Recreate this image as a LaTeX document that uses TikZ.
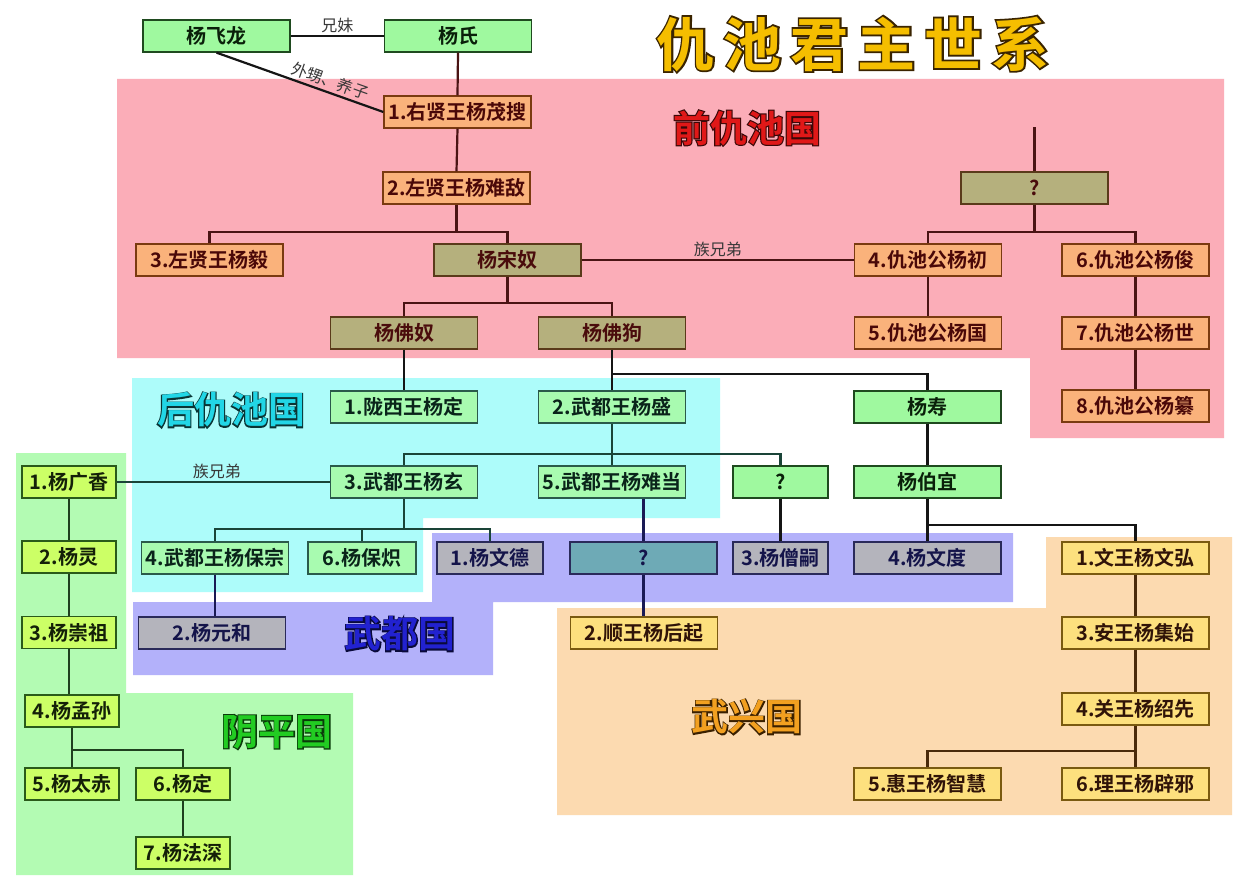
\documentclass[tikz,border=0pt]{standalone}
\usepackage{fontspec}
\newfontfamily\cjk{Noto Sans CJK SC}
\newfontfamily\cjkB{Noto Sans CJK SC Bold}
\newfontfamily\cjkOut{Noto Sans CJK SC Bold}[FakeBold=6]
\usetikzlibrary{calc}
\definecolor{rPink}{HTML}{FBADB8}
\definecolor{rCyan}{HTML}{ADFCFA}
\definecolor{rBlue}{HTML}{B3B1FA}
\definecolor{rPeach}{HTML}{FCDAB0}
\definecolor{rGreen}{HTML}{B3FBB3}
\definecolor{fG}{HTML}{9FF99F}
\definecolor{dG}{HTML}{1F4A1F}
\definecolor{tG}{HTML}{0A200A}
\definecolor{fC}{HTML}{A8FBB0}
\definecolor{dC}{HTML}{2A5A4A}
\definecolor{tC}{HTML}{0A241A}
\definecolor{fO}{HTML}{FAB27B}
\definecolor{dO}{HTML}{7A3A10}
\definecolor{tO}{HTML}{4A0808}
\definecolor{fOl}{HTML}{B5B07D}
\definecolor{dOl}{HTML}{5A3A1A}
\definecolor{tOl}{HTML}{4A0C0C}
\definecolor{fGy}{HTML}{B4B4BC}
\definecolor{dGy}{HTML}{2A2A5A}
\definecolor{tGy}{HTML}{14144A}
\definecolor{fT}{HTML}{6EAAB6}
\definecolor{fY}{HTML}{FDE07E}
\definecolor{dY}{HTML}{7A5A10}
\definecolor{tY}{HTML}{301408}
\definecolor{fL}{HTML}{CCFF66}
\definecolor{dL}{HTML}{2A5A1A}
\definecolor{tL}{HTML}{142008}
\definecolor{lR}{HTML}{4A1414}
\definecolor{lC}{HTML}{1A4438}
\definecolor{lK}{HTML}{151515}
\definecolor{lB}{HTML}{1A1A55}
\definecolor{lO}{HTML}{4A2A0A}
\definecolor{lL}{HTML}{1F3F1F}
\definecolor{cTitle}{HTML}{F5BE00}
\definecolor{oTitle}{HTML}{3A2400}
\definecolor{cRed}{HTML}{E01818}
\definecolor{oRed}{HTML}{3A0808}
\definecolor{cCyan}{HTML}{22D6E6}
\definecolor{oCyan}{HTML}{0A3434}
\definecolor{cBlue}{HTML}{2222D0}
\definecolor{oBlue}{HTML}{0A0A3A}
\definecolor{cOrange}{HTML}{F2A020}
\definecolor{oOrange}{HTML}{3A2000}
\definecolor{cGreen}{HTML}{22CC22}
\definecolor{oGreen}{HTML}{0A3A0A}
\newcommand\outlined[3]{\makebox[0pt]{\color{#2}\cjkOut #1}\makebox[0pt]{\color{#3}\cjkB #1}}
\begin{document}
\begin{tikzpicture}[x=1pt,y=-1pt,
  bx/.style={draw, line width=1.3pt, minimum width=147pt, minimum height=32pt, inner sep=0pt, font=\cjkB\fontsize{20}{20}\selectfont},
  gbox/.style={bx, fill=fG, draw=dG, text=tG},
  cbox/.style={bx, fill=fC, draw=dC, text=tC},
  obox/.style={bx, fill=fO, draw=dO, text=tO},
  olbox/.style={bx, fill=fOl, draw=dOl, text=tOl},
  gybox/.style={bx, fill=fGy, draw=dGy, text=tGy},
  tbox/.style={bx, fill=fT, draw=dGy, text=tGy},
  ybox/.style={bx, fill=fY, draw=dY, text=tY},
  lbox/.style={bx, fill=fL, draw=dL, text=tL, minimum width=94pt},
  ln/.style={line width=2.2pt},
  lnR/.style={ln, draw=lR}, lnC/.style={ln, draw=lC}, lnK/.style={ln, draw=lK},
  lnB/.style={ln, draw=lB}, lnO/.style={ln, draw=lO}, lnL/.style={ln, draw=lL},
  lbl/.style={font=\cjk\fontsize{16}{16}\selectfont, text=black!78, inner sep=2pt},
  big/.style={inner sep=0pt, font=\fontsize{37}{37}\selectfont}
]
\useasboundingbox (0,0) rectangle (1242,880);
\fill[white] (0,0) rectangle (1242,880);
% regions
\fill[rPink] (117,79) -- (1224,79) -- (1224,438) -- (1030,438) -- (1030,358) -- (117,358) -- cycle;
\fill[rCyan] (132,378) -- (720,378) -- (720,518) -- (423,518) -- (423,592) -- (132,592) -- cycle;
\fill[rBlue] (432,533) -- (1013,533) -- (1013,602) -- (493,602) -- (493,675) -- (133,675) -- (133,602) -- (432,602) -- cycle;
\fill[rPeach] (557,608) -- (1046,608) -- (1046,537) -- (1232,537) -- (1232,815) -- (557,815) -- cycle;
\fill[rGreen] (16,453) -- (126,453) -- (126,693) -- (353,693) -- (353,875) -- (16,875) -- cycle;
% region labels
\node[inner sep=0pt, font=\fontsize{58}{58}\selectfont] (title) at (853,44) {\outlined{仇\hspace{9pt}池\hspace{9pt}君\hspace{9pt}主\hspace{9pt}世\hspace{9pt}系}{oTitle}{cTitle}};
\node[big] (lqian) at (747,128) {\outlined{前仇池国}{oRed}{cRed}};
\node[big] (lhou) at (231,410) {\outlined{后仇池国}{oCyan}{cCyan}};
\node[big] (lwudu) at (400,634) {\outlined{武都国}{oBlue}{cBlue}};
\node[big] (lwuxing) at (747,717) {\outlined{武兴国}{oOrange}{cOrange}};
\node[big] (lyinping) at (277,732) {\outlined{阴平国}{oGreen}{cGreen}};
% boxes
\node[gbox] (feilong) at (216.5,36) {杨飞龙};
\node[gbox] (yangshi) at (458,36) {杨氏};
\node[obox] (maosou) at (457.5,112) {1.右贤王杨茂搜};
\node[obox] (nandi) at (456.5,188) {2.左贤王杨难敌};
\node[obox] (yi) at (209.5,260) {3.左贤王杨毅};
\node[olbox] (songnu) at (507.5,260) {杨宋奴};
\node[olbox] (fonu) at (404,333) {杨佛奴};
\node[olbox] (fogou) at (612,333) {杨佛狗};
\node[olbox] (qa) at (1034.5,188) {?};
\node[obox] (chu) at (928,260) {4.仇池公杨初};
\node[obox] (jun) at (1135.5,260) {6.仇池公杨俊};
\node[obox] (guo) at (928,333) {5.仇池公杨国};
\node[obox] (shi) at (1135.5,333) {7.仇池公杨世};
\node[obox] (zuan) at (1135.5,406) {8.仇池公杨纂};
\node[cbox] (ding) at (404,407) {1.陇西王杨定};
\node[cbox] (sheng) at (612,407) {2.武都王杨盛};
\node[cbox] (xuan) at (404,482) {3.武都王杨玄};
\node[cbox] (nandang) at (612,482) {5.武都王杨难当};
\node[cbox] (baozong) at (215,558) {4.武都王杨保宗};
\node[cbox, minimum width=108pt] (baochi) at (362,558) {6.杨保炽};
\node[gbox] (shou) at (927.5,407) {杨寿};
\node[gbox] (boyi) at (927.5,482) {杨伯宜};
\node[gbox, minimum width=95pt] (qb) at (780.5,482) {?};
\node[gybox, minimum width=106pt] (wende) at (490,558) {1.杨文德};
\node[tbox] (qc) at (643.5,558) {?};
\node[gybox, minimum width=95pt] (sengsi) at (780.5,558) {3.杨僧嗣};
\node[gybox] (wendu) at (927.5,558) {4.杨文度};
\node[gybox] (yuanhe) at (212,633) {2.杨元和};
\node[ybox] (wenhong) at (1135.5,558) {1.文王杨文弘};
\node[ybox] (houqi) at (644,633) {2.顺王杨后起};
\node[ybox] (jishi) at (1135.5,633) {3.安王杨集始};
\node[ybox] (shaoxian) at (1135.5,709) {4.关王杨绍先};
\node[ybox] (zhihui) at (927.5,784) {5.惠王杨智慧};
\node[ybox] (bixie) at (1135.5,784) {6.理王杨辟邪};
\node[lbox] (guangxiang) at (69,482) {1.杨广香};
\node[lbox] (ling) at (69,557) {2.杨灵};
\node[lbox] (chongzu) at (69,632.5) {3.杨崇祖};
\node[lbox] (mengsun) at (72,711) {4.杨孟孙};
\node[lbox] (taichi) at (72,784) {5.杨太赤};
\node[lbox] (yding) at (183,784) {6.杨定};
\node[lbox] (fashen) at (183,853) {7.杨法深};
% connectors
\draw[lnK] (feilong.east) -- node[lbl, above] {兄妹} (yangshi.west);
\draw[lnK] (feilong.south) -- node[lbl, sloped, above=1pt, pos=0.66] {外甥、养子} (maosou.west);
\draw[lnR] (yangshi.south) -- (maosou.north);
\draw[lnR] (maosou.south) -- (nandi.north);
\draw[lnR] (nandi.south) -- ++(0,27) coordinate (n1);
\draw[lnR] (yi.north) |- (n1) -| (songnu.north);
\draw[lnR] (songnu.south) -- ++(0,26) coordinate (n2);
\draw[lnR] (fonu.north) |- (n2) -| (fogou.north);
\draw[lnR] (songnu.east) -- node[lbl, above] {族兄弟} (chu.west);
\draw[lnR] (qa.north) -- ++(0,-44) coordinate (qtop);
\draw[lnR] (qa.south) -- ++(0,27) coordinate (n3);
\draw[lnR] (chu.north) |- (n3) -| (jun.north);
\draw[lnR] (chu.south) -- (guo.north);
\draw[lnR] (jun.south) -- (shi.north);
\draw[lnR] (shi.south) -- (zuan.north);
\draw[lnK] (fonu.south) -- (ding.north);
\draw[lnK] (fogou.south) -- (sheng.north);
\draw[lnK] (fogou.south) ++(0,24) coordinate (n4) -| (shou.north);
\draw[lnC] (sheng.south) -- (nandang.north);
\path (sheng.south) ++(0,30) coordinate (n5);
\draw[lnC] (xuan.north) |- (n5) -| (qb.north);
\draw[lnC] (xuan.south) -- ++(0,30) coordinate (n6);
\draw[lnC] (baozong.north) |- (n6) -| (wende.north);
\draw[lnC] (baochi.north) -- (baochi.north |- n6);
\draw[lnC] (guangxiang.east) -- node[lbl, above, pos=0.47] {族兄弟} (xuan.west);
\draw[lnB] (baozong.south) -- (baozong.south |- yuanhe.north);
\draw[lnB] (qc.north |- nandang.south) -- (qc.north);
\draw[lnB] (qc.south) -- (qc.south |- houqi.north);
\draw[lnK] (qb.south) -- (sengsi.north);
\draw[lnK] (shou.south) -- (boyi.north);
\draw[lnK] (boyi.south) -- ++(0,26) coordinate (n7);
\draw[lnK] (n7) -- (wendu.north);
\draw[lnK] (n7) -| (wenhong.north);
\draw[lnO] (wenhong.south) -- (jishi.north);
\draw[lnO] (jishi.south) -- (shaoxian.north);
\draw[lnO] (shaoxian.south) -- (bixie.north);
\draw[lnO] (shaoxian.south) ++(0,25) coordinate (n8) -| (zhihui.north);
\draw[lnL] (guangxiang.south) -- (ling.north);
\draw[lnL] (ling.south) -- (chongzu.north);
\draw[lnL] (chongzu.south) -- (chongzu.south |- mengsun.north);
\draw[lnL] (mengsun.south) -- (taichi.north);
\draw[lnL] (mengsun.south) ++(0,22) coordinate (n9) -| (yding.north);
\draw[lnL] (yding.south) -- (fashen.north);
\end{tikzpicture}
\end{document}
